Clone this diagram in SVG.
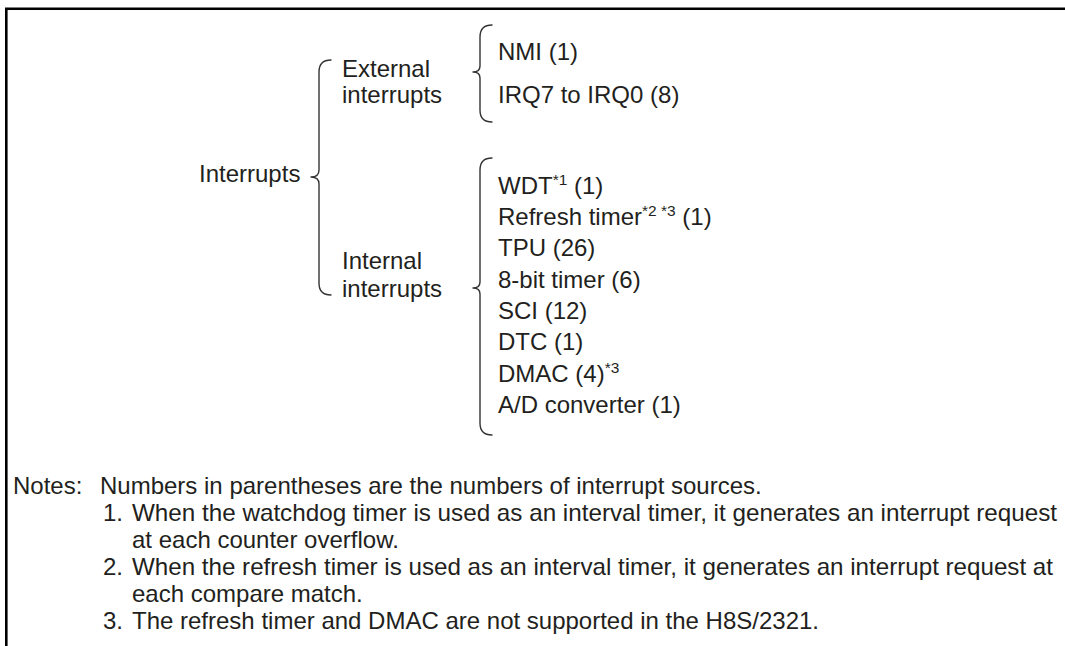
<svg xmlns="http://www.w3.org/2000/svg" width="1065" height="646" viewBox="0 0 1065 646">
<style>
text{font-family:"Liberation Sans",Arial,Helvetica,sans-serif;font-size:24px;fill:#231f20}
.sup{font-size:15.5px}
.brace{fill:none;stroke:#333;stroke-width:1.4;stroke-linecap:round;stroke-linejoin:round}
.frame{fill:none;stroke:#000;stroke-width:2.6}
</style>
<rect width="1065" height="646" fill="#fff"/>
<path class="frame" d="M6.3,646 V8.7 H1065"/>
<g id="connectors">
<path class="brace" d="M331,60 Q319,60 319,72 L319,170 Q319,177 311,177 Q319,177 319,184 L319,283 Q319,295 331,295"/>
<path class="brace" d="M492,25 Q480,25 480,37 L480,66 Q480,72 473,72 Q480,72 480,78 L480,110 Q480,122 492,122"/>
<path class="brace" d="M492,158 Q480,158 480,170 L480,282 Q480,288 473,288 Q480,288 480,294 L480,423 Q480,435 492,435"/>
</g>
<g id="root"><text x="199" y="182">Interrupts</text></g>
<g id="external"><text x="342" y="77">External</text><text x="342" y="103">interrupts</text></g>
<g id="internal"><text x="342" y="269">Internal</text><text x="342" y="297">interrupts</text></g>
<g id="nmi"><text x="498" y="60">NMI (1)</text></g>
<g id="irq"><text x="498" y="103">IRQ7 to IRQ0 (8)</text></g>
<g id="wdt"><text x="498" y="194">WDT<tspan class="sup" dy="-9">*1</tspan><tspan dy="9"> (1)</tspan></text></g>
<g id="refresh"><text x="498" y="225">Refresh timer<tspan class="sup" dy="-9">*2 *3</tspan><tspan dy="9"> (1)</tspan></text></g>
<g id="tpu"><text x="498" y="256">TPU (26)</text></g>
<g id="tmr8"><text x="498" y="288">8-bit timer (6)</text></g>
<g id="sci"><text x="498" y="319">SCI (12)</text></g>
<g id="dtc"><text x="498" y="350">DTC (1)</text></g>
<g id="dmac"><text x="498" y="382">DMAC (4)<tspan class="sup" dy="-9">*3</tspan></text></g>
<g id="adc"><text x="498" y="413">A/D converter (1)</text></g>
<g id="notes">
<text x="13" y="494">Notes:</text>
<text x="100" y="494">Numbers in parentheses are the numbers of interrupt sources.</text>
<text x="103" y="521">1.</text>
<text x="132" y="521" textLength="925" lengthAdjust="spacingAndGlyphs">When the watchdog timer is used as an interval timer, it generates an interrupt request</text>
<text x="132" y="548">at each counter overflow.</text>
<text x="103" y="575">2.</text>
<text x="132" y="575" textLength="921" lengthAdjust="spacingAndGlyphs">When the refresh timer is used as an interval timer, it generates an interrupt request at</text>
<text x="132" y="602">each compare match.</text>
<text x="103" y="629">3.</text>
<text x="132" y="629">The refresh timer and DMAC are not supported in the H8S/2321.</text>
</g>
</svg>
